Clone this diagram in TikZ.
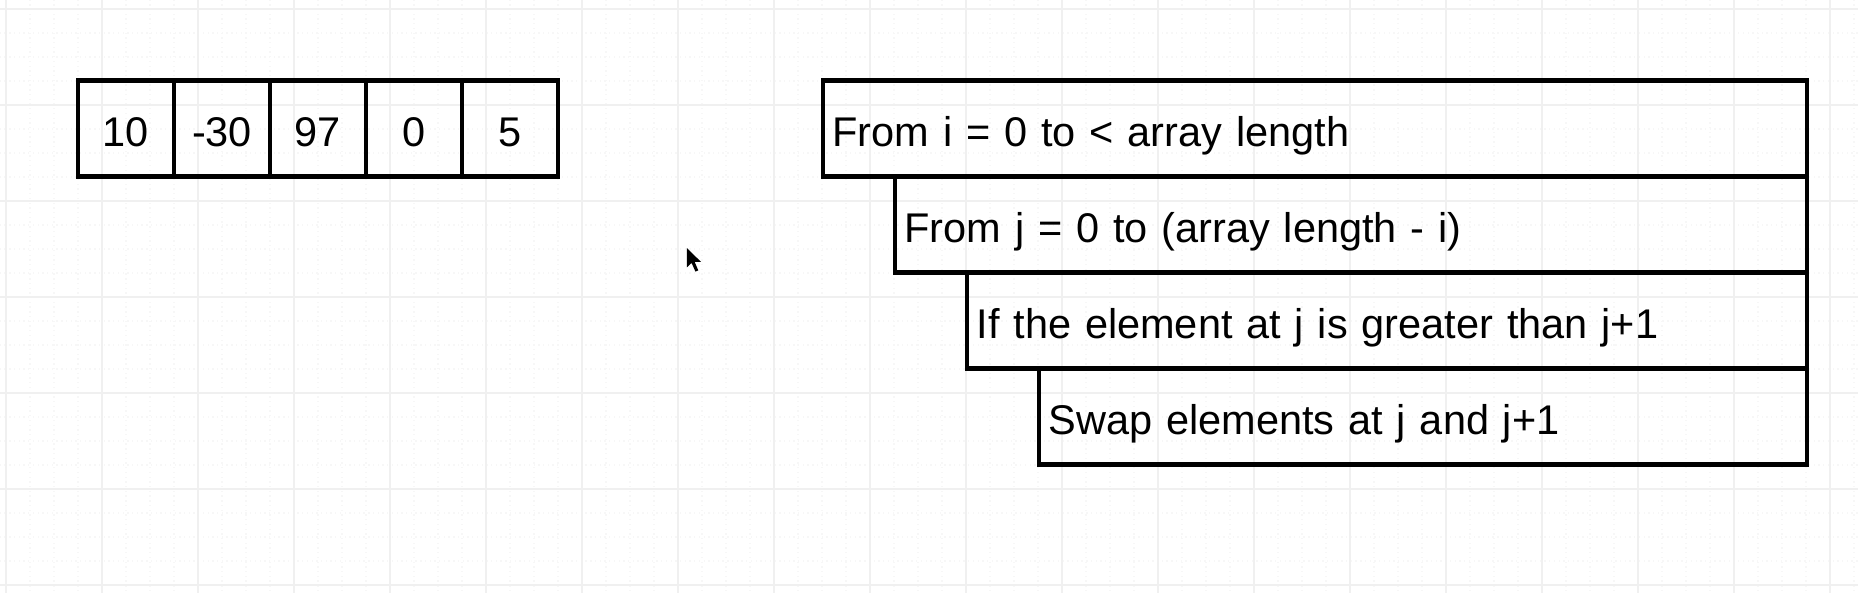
\documentclass[tikz,border=0pt]{standalone}
\usepackage{fontspec}
\setmainfont{Liberation Sans}
\usepackage{tikz}
\usetikzlibrary{positioning}
\tikzset{cell/.style={draw, line width=1.3pt, outer sep=0pt, minimum width=1cm, minimum height=1cm, inner sep=0pt, text height=0.45cm, text depth=0.07cm}}

\begin{document}
\begin{tikzpicture}[x=1cm, y=1cm, node distance=0pt, every node/.style={font=\fontsize{12.3}{14}\selectfont},
loopbox/.style={draw, line width=1.3pt, outer sep=0pt, minimum height=1cm, inner xsep=0.1cm, inner ysep=0pt, text height=0.45cm, text depth=0.07cm, text width=#1, align=left, anchor=north east}]
\useasboundingbox (0,0) rectangle (19.354,6.167);
\begin{scope}
\clip (0,0) rectangle (19.354,6.167);
\draw[black!3, line width=0.4pt, densely dotted, shift={(0.0625,0.073)}] (-1,-1) grid[step=0.25] (20,7);
\draw[black!6, line width=0.6pt, shift={(0.0625,0.073)}] (-1,-1) grid[step=1] (20,7);
\end{scope}
\node[cell, anchor=north west] (a1) at (0.8125,5.33) {10};
\node[cell, right=of a1] (a2) {-30};
\node[cell, right=of a2] (a3) {97};
\node[cell, right=of a3] (a4) {0};
\node[cell, right=of a4] (a5) {5};
\node[loopbox=10.05cm, anchor=north west] (iloop) at (8.573,5.33) {From i = 0 to < array length};
\node[loopbox=9.30cm] (jloop) at (iloop.south east) {From j = 0 to (array length - i)};
\node[loopbox=8.55cm] (ifcmp) at (jloop.south east) {If the element at j is greater than j+1};
\node[loopbox=7.80cm] (swap) at (ifcmp.south east) {Swap elements at j and j+1};
\fill (7.156,3.583) -- ++(0,-0.2) -- ++(0.048,0.045) -- ++(0.04,-0.09) -- ++(0.03,0.012) -- ++(-0.038,0.088) -- ++(0.066,0) -- cycle;
\end{tikzpicture}
\end{document}
